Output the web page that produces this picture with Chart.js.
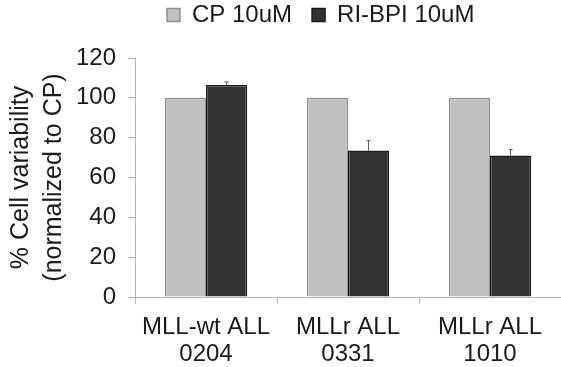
<!DOCTYPE html>
<html>
<head>
<meta charset="utf-8">
<script src="https://cdn.jsdelivr.net/npm/chart.js@4"></script>
<style>
  html, body { margin: 0; padding: 0; background: #fff; }
  #wrap { width: 561px; height: 367px; }
</style>
</head>
<body>
<div id="wrap"><canvas id="chart"></canvas></div>
<script>
// Categories (two-line labels) and series values
const categories = [['MLL-wt ALL', '0204'], ['MLLr ALL', '0331'], ['MLLr ALL', '1010']];
const cpValues = [100, 100, 100];
const riValues = [106.5, 73.5, 71];
const riErrors = [1.5, 5, 3];
const yTicks = [0, 20, 40, 60, 80, 100, 120];

const axisGray = '#b3b3b3';
const textColor = '#1a1a1a';
const fontFamily = 'Liberation Sans';

// Draws the upper error whiskers on the RI-BPI bars
const errorBars = {
    id: 'errorBars',
    afterDatasetsDraw(chart) {
        const ctx = chart.ctx;
        const yScale = chart.scales.y;
        const meta = chart.getDatasetMeta(1);
        ctx.save();
        ctx.strokeStyle = '#555';
        ctx.lineWidth = 1;
        meta.data.forEach((bar, i) => {
            const yTop = yScale.getPixelForValue(riValues[i] + riErrors[i]);
            const yVal = yScale.getPixelForValue(riValues[i]);
            ctx.beginPath();
            ctx.moveTo(bar.x, yVal);
            ctx.lineTo(bar.x, yTop);
            ctx.moveTo(bar.x - 2, yTop);
            ctx.lineTo(bar.x + 2, yTop);
            ctx.stroke();
        });
        ctx.restore();
    }
};

// Legend sits high and a bit right of centre, with room below it
const legendPlace = {
    id: 'legendPlace',
    beforeInit(chart) {
        const fit = chart.legend.fit;
        chart.legend.fit = function () {
            fit.bind(chart.legend)();
            this.height = 58;
        };
    },
    afterLayout(chart) {
        const lg = chart.legend;
        const pad = lg.options.labels.padding;
        const startX = (lg.left + pad + lg.right - lg.lineWidths[0]) / 2;
        const dx = 167 - startX;
        lg.left += dx;
        lg.right += dx;
        lg.top -= 17;
        lg.bottom -= 17;
    }
};

new Chart(document.getElementById('chart'), {
    type: 'bar',
    data: {
        labels: categories,
        datasets: [{
            label: 'CP 10uM',
            data: cpValues,
            backgroundColor: '#c0c0c0',
            borderColor: '#8f8f8f',
            borderWidth: 1.5,
            categoryPercentage: 0.58,
            barPercentage: 1.0
        },
        {
            label: 'RI-BPI 10uM',
            data: riValues,
            backgroundColor: '#333333',
            borderColor: '#1a1a1a',
            borderWidth: 1.5,
            categoryPercentage: 0.58,
            barPercentage: 1.0
        }]
    },
    options: {
        responsive: true,
        maintainAspectRatio: false,
        animation: false,
        layout: {
            padding: { left: 5, right: 0, top: 0, bottom: 0 }
        },
        plugins: {
            legend: {
                position: 'top',
                labels: {
                    color: textColor,
                    font: { family: fontFamily, size: 24 },
                    boxWidth: 13,
                    boxHeight: 13,
                    padding: 20
                }
            },
            tooltip: { enabled: false }
        },
        scales: {
            y: {
                min: 0,
                max: 120,
                afterBuildTicks: axis => {
                    axis.ticks = yTicks.map(v => ({ value: v }));
                },
                afterFit: scale => {
                    scale.width = 130;
                },
                ticks: {
                    color: textColor,
                    font: { family: fontFamily, size: 24 },
                    padding: 12
                },
                grid: {
                    drawOnChartArea: false,
                    drawTicks: true,
                    tickLength: 7,
                    color: axisGray
                },
                border: { color: axisGray, width: 1 },
                title: {
                    display: true,
                    text: ['% Cell variability', '(normalized to CP)'],
                    color: textColor,
                    font: { family: fontFamily, size: 25, lineHeight: 1.3 },
                    padding: { top: 0, bottom: 4 }
                }
            },
            x: {
                afterFit: scale => {
                    scale.height = 70;
                },
                ticks: {
                    color: textColor,
                    font: { family: fontFamily, size: 24, lineHeight: 1.13 },
                    padding: 10,
                    maxRotation: 0,
                    autoSkip: false
                },
                grid: {
                    drawOnChartArea: false,
                    drawTicks: true,
                    tickLength: 7,
                    color: axisGray
                },
                border: { color: axisGray, width: 1 }
            }
        }
    },
    plugins: [errorBars, legendPlace]
});
</script>
</body>
</html>
